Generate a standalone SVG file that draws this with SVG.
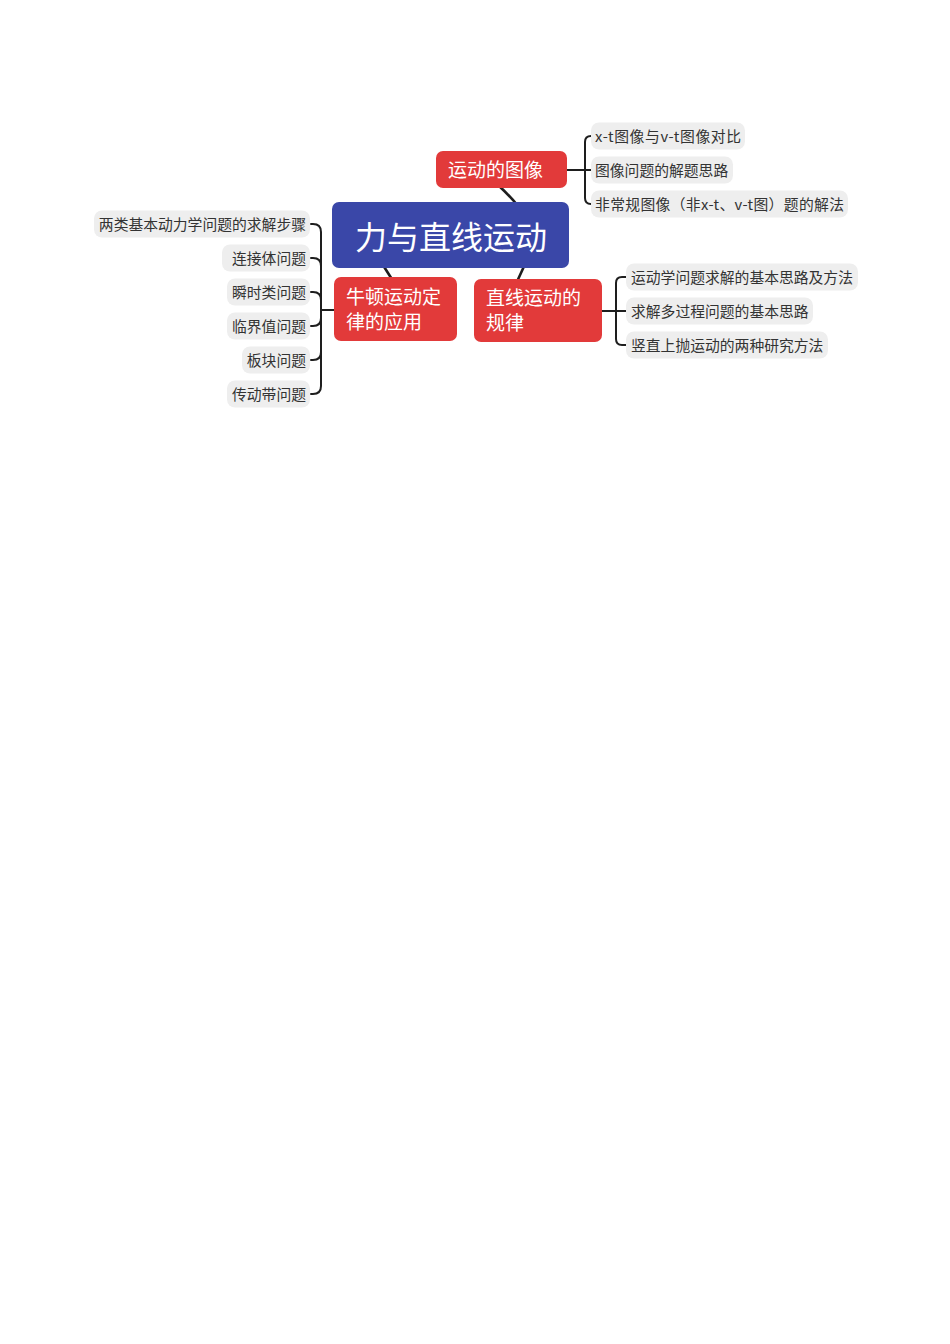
<svg xmlns="http://www.w3.org/2000/svg" width="950" height="1344" viewBox="0 0 950 1344">
<style>
.bg{fill:#ffffff}
.root{fill:#3a47a8}
.main{fill:#e23a3a}
.leaf{fill:#eeeeee}
.rt{font-family:"Noto Sans CJK SC","Noto Sans",sans-serif;font-size:32px;fill:#ffffff}
.mt{font-family:"Noto Sans CJK SC","Noto Sans",sans-serif;font-size:19px;fill:#ffffff}
.lt{font-family:"Noto Sans CJK SC","Noto Sans",sans-serif;font-size:14.8px;fill:#333333}
.ln{fill:none;stroke:#1e1e1e;stroke-width:2;stroke-linecap:round}
.lm{fill:none;stroke:#1e1e1e;stroke-width:2.6;stroke-linecap:round}
</style>
<rect class="bg" x="0" y="0" width="950" height="1344"/>
<g id="connectors">
<path class="lm" d="M518 206 Q510 196 498 185"/>
<path class="lm" d="M381 262 L395 284"/>
<path class="lm" d="M526 262 L515 286"/>
<path class="ln" d="M567 170 H585 V142 Q585 136 591 136"/>
<path class="ln" d="M585 170 H591"/>
<path class="ln" d="M585 170 V198 Q585 204 591 204"/>
<path class="ln" d="M602 311 H616 V283 Q616 277 622 277 H626"/>
<path class="ln" d="M616 311 H626"/>
<path class="ln" d="M616 311 V339 Q616 345 622 345 H626"/>
<path class="ln" d="M334 310 H321 V232 Q321 224 313 224 H311"/>
<path class="ln" d="M321 266 Q321 258 313 258 H311"/>
<path class="ln" d="M321 300 Q321 292 313 292 H311"/>
<path class="ln" d="M321 318 Q321 326 313 326 H311"/>
<path class="ln" d="M321 310 V386 Q321 394 313 394 H311"/>
<path class="ln" d="M321 352 Q321 360 313 360 H311"/>
</g>
<g id="root">
<rect class="root" x="332" y="202" width="237" height="66" rx="7"/>
<text class="rt" x="451" y="249" text-anchor="middle">力与直线运动</text>
</g>
<g id="n-image">
<rect class="main" x="436" y="151" width="131" height="37" rx="7"/>
<text class="mt" x="448" y="177">运动的图像</text>
</g>
<g id="n-newton">
<rect class="main" x="334" y="277" width="123" height="64" rx="7"/>
<text class="mt" x="346" y="304">牛顿运动定</text>
<text class="mt" x="346" y="329">律的应用</text>
</g>
<g id="n-law">
<rect class="main" x="474" y="279" width="128" height="63" rx="7"/>
<text class="mt" x="486" y="305">直线运动的</text>
<text class="mt" x="486" y="330">规律</text>
</g>
<g id="leaf-r1">
<rect class="leaf" x="591" y="122.5" width="154" height="27" rx="8"/>
<text class="lt" x="595" y="141.5" textLength="146" lengthAdjust="spacing">x-t图像与v-t图像对比</text>
</g>
<g id="leaf-r2">
<rect class="leaf" x="591" y="156.5" width="142" height="27" rx="8"/>
<text class="lt" x="595" y="175.5">图像问题的解题思路</text>
</g>
<g id="leaf-r3">
<rect class="leaf" x="591" y="190.5" width="257" height="27" rx="8"/>
<text class="lt" x="595" y="209.5" textLength="249" lengthAdjust="spacing">非常规图像（非x-t、v-t图）题的解法</text>
</g>
<g id="leaf-r4">
<rect class="leaf" x="626" y="263.5" width="232" height="27" rx="8"/>
<text class="lt" x="631" y="282.5">运动学问题求解的基本思路及方法</text>
</g>
<g id="leaf-r5">
<rect class="leaf" x="626" y="297.5" width="187" height="27" rx="8"/>
<text class="lt" x="631" y="316.5">求解多过程问题的基本思路</text>
</g>
<g id="leaf-r6">
<rect class="leaf" x="626" y="331.5" width="202" height="27" rx="8"/>
<text class="lt" x="631" y="350.5">竖直上抛运动的两种研究方法</text>
</g>
<g id="leaf-l1">
<rect class="leaf" x="94" y="210.5" width="216" height="27" rx="8"/>
<text class="lt" x="306" y="229.5" text-anchor="end">两类基本动力学问题的求解步骤</text>
</g>
<g id="leaf-l2">
<rect class="leaf" x="222" y="244.5" width="88" height="27" rx="8"/>
<text class="lt" x="306" y="263.5" text-anchor="end">连接体问题</text>
</g>
<g id="leaf-l3">
<rect class="leaf" x="227" y="278.5" width="83" height="27" rx="8"/>
<text class="lt" x="306" y="297.5" text-anchor="end">瞬时类问题</text>
</g>
<g id="leaf-l4">
<rect class="leaf" x="227" y="312.5" width="83" height="27" rx="8"/>
<text class="lt" x="306" y="331.5" text-anchor="end">临界值问题</text>
</g>
<g id="leaf-l5">
<rect class="leaf" x="242" y="346.5" width="68" height="27" rx="8"/>
<text class="lt" x="306" y="365.5" text-anchor="end">板块问题</text>
</g>
<g id="leaf-l6">
<rect class="leaf" x="227" y="380.5" width="83" height="27" rx="8"/>
<text class="lt" x="306" y="399.5" text-anchor="end">传动带问题</text>
</g>
</svg>
